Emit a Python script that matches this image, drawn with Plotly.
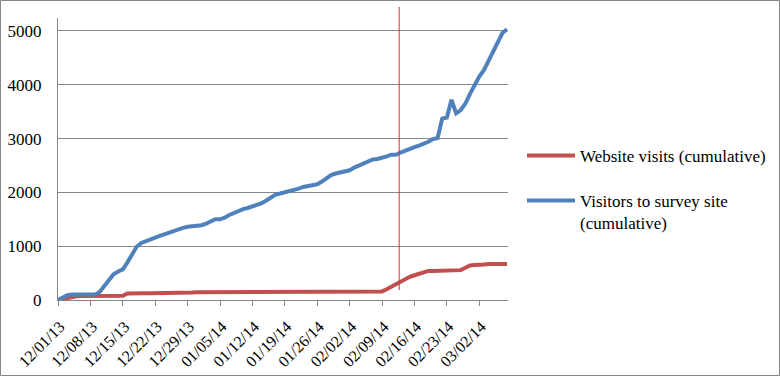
import datetime as dt
import plotly.graph_objects as go

start = dt.date(2013, 12, 1)
website_visits = [
    0, 20, 40, 60, 70, 75, 75, 78, 78, 78, 78, 78, 80, 80, 80,
    120, 125, 125, 125, 125, 125, 125, 125, 125, 125, 125, 125, 125, 125,
    140, 145, 145, 145, 145, 145, 145, 145, 145, 145, 145, 145, 145, 145, 145, 145,
    145, 145, 145, 145, 145, 145, 145, 145, 145, 145, 145, 145, 145, 145, 145, 150,
    160, 160, 160, 160, 160, 160, 160, 160, 160, 160,
    200, 250, 290, 340, 390, 430, 460, 490, 520, 540,
    540, 540, 540, 540, 540, 540,
    555, 600, 640, 650, 650, 660, 670, 670, 670, 670, 670,
]
survey_visitors = [
    0, 50, 90, 100, 100, 100, 100, 100, 100, 150, 270, 390, 480, 530, 570,
    700, 850, 990, 1060, 1100, 1130, 1160, 1190, 1220, 1250, 1280, 1320, 1340, 1360,
    1370, 1370, 1390, 1420, 1460, 1500, 1500, 1530, 1580, 1620, 1660, 1690, 1710, 1740,
    1780, 1800, 1850, 1900, 1960, 1980, 2000, 2020, 2050, 2070, 2100, 2120, 2130, 2150,
    2200, 2270, 2320, 2350, 2370, 2390, 2410, 2460, 2500, 2530, 2570, 2610, 2620, 2640,
    2670, 2700, 2700, 2740, 2780, 2800, 2840, 2870, 2900, 2940, 2990, 3010,
    3370, 3390, 3720, 3470, 3530, 3650, 3830, 4010, 4150, 4270, 4440, 4610, 4790, 4960, 5030,
]
dates = [start + dt.timedelta(days=i) for i in range(len(survey_visitors))]
marker_date = "2014-02-12 17:00"
y_ticks = [0, 1000, 2000, 3000, 4000, 5000]

RED = "#C0504D"
BLUE = "#4F81BD"
GRID = "#868686"
FONT = "Liberation Serif"

# plot area pixel geometry
W, H = 780, 376
L, R, T, B = 58, 508, 18, 300

def px(x):
    return (x - L) / (R - L)

def py(y):
    return (B - y) / (B - T)

fig = go.Figure()
fig.add_trace(go.Scatter(x=dates, y=website_visits, mode="lines",
                         name="Website visits (cumulative)", showlegend=True,
                         line=dict(color=RED, width=4), legend="legend"))
fig.add_trace(go.Scatter(x=dates, y=survey_visitors, mode="lines",
                         name="Visitors to survey site<br>(cumulative)", showlegend=True,
                         line=dict(color=BLUE, width=4), legend="legend2"))

fig.add_shape(type="line", xref="x", yref="paper", x0=marker_date, x1=marker_date,
              y0=py(290), y1=py(7), line=dict(color="rgba(200,60,60,0.8)", width=1.3))
fig.add_shape(type="rect", xref="paper", yref="paper",
              x0=px(0.5), x1=px(W - 0.5), y0=py(H - 0.5), y1=py(0.5),
              line=dict(color=GRID, width=1), layer="below")

fig.update_layout(
    width=W, height=H, showlegend=True,
    margin=dict(l=L, r=W - R, t=T, b=H - B, pad=0, autoexpand=False),
    paper_bgcolor="white", plot_bgcolor="white",
    font=dict(family=FONT, size=17, color="black"),
    legend=dict(x=px(522), y=py(156), xanchor="left", yanchor="middle", visible=True,
                itemwidth=48, font=dict(family=FONT, size=17), bgcolor="rgba(0,0,0,0)"),
    legend2=dict(x=px(522), y=py(212), xanchor="left", yanchor="middle", valign="top",
                 visible=True, itemwidth=48, font=dict(family=FONT, size=17),
                 bgcolor="rgba(0,0,0,0)"),
)
fig.update_xaxes(
    type="date", range=["2013-12-01", "2014-03-08 05:00"], automargin=False,
    tick0="2013-12-01", dtick=7 * 86400000, tickformat="%m/%d/%y", tickangle=-45,
    ticks="outside", ticklen=5, tickcolor=GRID, showgrid=False,
    showline=True, linecolor=GRID, linewidth=1, zeroline=False,
    tickfont=dict(family=FONT, size=16), ticklabelshift=2, ticklabelstandoff=5,
)
fig.update_yaxes(
    range=[0, 5240], tickvals=y_ticks, ticks="", showgrid=True, gridcolor=GRID, gridwidth=1,
    showline=True, linecolor=GRID, linewidth=1, zeroline=False, ticklabelstandoff=12,
    tickfont=dict(family=FONT, size=17), automargin=False,
)
fig.write_html("out.html")
